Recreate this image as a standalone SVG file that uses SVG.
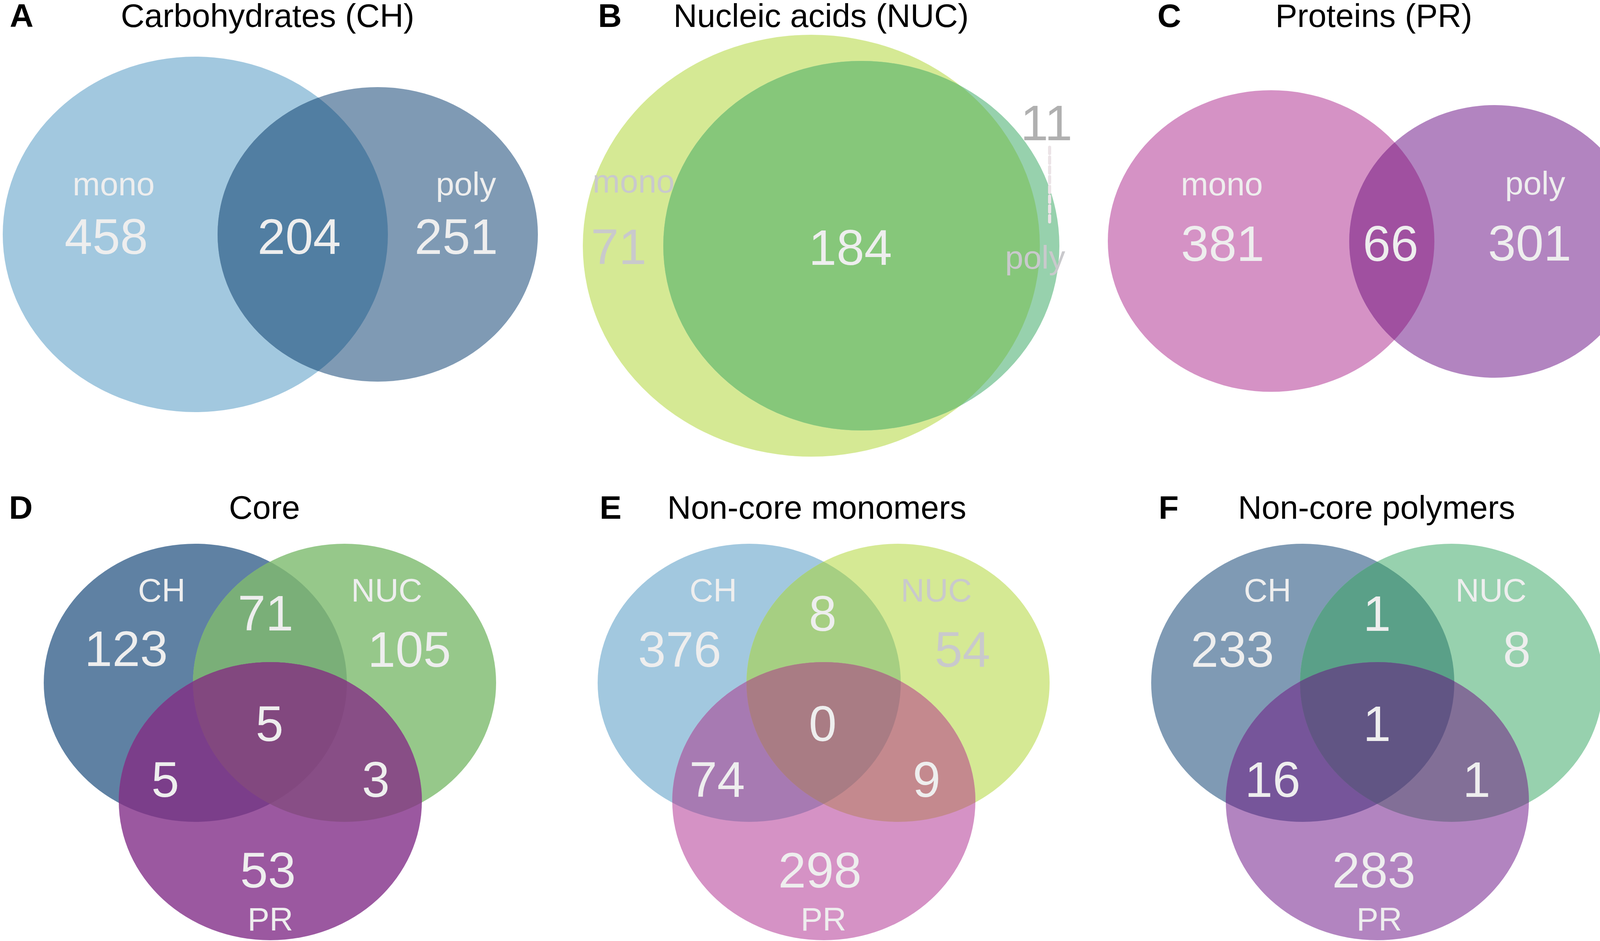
<svg xmlns="http://www.w3.org/2000/svg" width="4206" height="2409" viewBox="0 0 4206 2409">
<style>
text{font-family:"Liberation Sans",Arial,sans-serif}
.t{font-size:84px;fill:#000;text-anchor:middle}
.L{font-size:84px;font-weight:bold;fill:#000}
.lb{font-size:84px;fill:#EEEEEE;text-anchor:middle}
.n{font-size:128px;fill:#EEEEEE;text-anchor:middle}
.g{fill:#C9C9CC}
.g2{fill:#B0B0B0}
</style>
<defs>
<clipPath id="cA1"><ellipse cx="500" cy="600" rx="493" ry="455"/></clipPath>
<clipPath id="cB1"><ellipse cx="2077" cy="629" rx="585" ry="540"/></clipPath>
<clipPath id="cC1"><ellipse cx="3254" cy="617" rx="418" ry="386"/></clipPath>
<clipPath id="cD1"><ellipse cx="500" cy="1748" rx="388" ry="356"/></clipPath>
<clipPath id="cD2"><ellipse cx="882" cy="1748" rx="388" ry="356"/></clipPath>
<clipPath id="cE1"><ellipse cx="1918" cy="1748" rx="388" ry="356"/></clipPath>
<clipPath id="cE2"><ellipse cx="2299" cy="1748" rx="388" ry="356"/></clipPath>
<clipPath id="cF1"><ellipse cx="3335" cy="1748" rx="388" ry="356"/></clipPath>
<clipPath id="cF2"><ellipse cx="3716" cy="1748" rx="388" ry="356"/></clipPath>
</defs>
<rect width="4206" height="2409" fill="#FFFFFF"/>

<g id="panelA">
<text class="L" x="25" y="69">A</text>
<text class="t" x="685" y="69">Carbohydrates (CH)</text>
<g id="A-mono"><ellipse cx="500" cy="600" rx="493" ry="455" fill="#A2C8DF"/></g>
<g id="A-poly"><ellipse cx="967" cy="600" rx="410" ry="377" fill="#7F9AB4"/></g>
<g id="A-overlap" clip-path="url(#cA1)"><ellipse cx="967" cy="600" rx="410" ry="377" fill="#517EA2"/></g>
<text class="lb" x="291" y="500">mono</text>
<text class="n" x="272" y="650">458</text>
<text class="n" x="766" y="650">204</text>
<text class="lb" x="1193" y="500">poly</text>
<text class="n" x="1168" y="650">251</text>
</g>

<g id="panelB">
<text class="L" x="1531" y="69">B</text>
<text class="t" x="2102" y="69">Nucleic acids (NUC)</text>
<g id="B-mono"><ellipse cx="2077" cy="629" rx="585" ry="540" fill="#D5E994"/></g>
<g id="B-poly"><ellipse cx="2205" cy="629" rx="507" ry="473" fill="#97D1AD"/></g>
<g id="B-overlap" clip-path="url(#cB1)"><ellipse cx="2205" cy="629" rx="507" ry="473" fill="#86C77A"/></g>
<text class="lb g" x="1622" y="493">mono</text>
<text class="n g" x="1584" y="676">71</text>
<text class="n" x="2177" y="678">184</text>
<text class="lb g" x="2650" y="688">poly</text>
<text class="n g2" x="2679" y="359">11</text>
</g>

<g id="panelC">
<text class="L" x="2963" y="69">C</text>
<text class="t" x="3517" y="69">Proteins (PR)</text>
<g id="C-mono"><ellipse cx="3254" cy="617" rx="418" ry="386" fill="#D592C5"/></g>
<g id="C-poly"><ellipse cx="3826" cy="618" rx="372" ry="349" fill="#B284C0"/></g>
<g id="C-overlap" clip-path="url(#cC1)"><ellipse cx="3826" cy="618" rx="372" ry="349" fill="#A050A0"/></g>
<text class="lb" x="3128" y="500">mono</text>
<text class="n" x="3130" y="668">381</text>
<text class="n" x="3560" y="668">66</text>
<text class="lb" x="3930" y="498">poly</text>
<text class="n" x="3916" y="667">301</text>
</g>

<g id="panelD">
<text class="L" x="23" y="1328">D</text>
<text class="t" x="677" y="1328">Core</text>
<g id="D-CH"><ellipse cx="500" cy="1748" rx="388" ry="356" fill="#5F81A3"/></g>
<g id="D-NUC"><ellipse cx="882" cy="1748" rx="388" ry="356" fill="#96C88A"/></g>
<g id="D-PR"><ellipse cx="692" cy="2051" rx="388" ry="356" fill="#9B58A0"/></g>
<g id="D-CH-NUC" clip-path="url(#cD1)"><ellipse cx="882" cy="1748" rx="388" ry="356" fill="#7AAF78"/></g>
<g id="D-CH-PR" clip-path="url(#cD1)"><ellipse cx="692" cy="2051" rx="388" ry="356" fill="#7B3E8A"/></g>
<g id="D-NUC-PR" clip-path="url(#cD2)"><ellipse cx="692" cy="2051" rx="388" ry="356" fill="#884E86"/></g>
<g id="D-all" clip-path="url(#cD1)"><g clip-path="url(#cD2)"><ellipse cx="692" cy="2051" rx="388" ry="356" fill="#82487F"/></g></g>
<text class="lb" x="414" y="1540">CH</text>
<text class="lb" x="990" y="1540">NUC</text>
<text class="n" x="680" y="1614">71</text>
<text class="n" x="323" y="1705">123</text>
<text class="n" x="1048" y="1707">105</text>
<text class="n" x="690" y="1897">5</text>
<text class="n" x="423" y="2040">5</text>
<text class="n" x="962" y="2040">3</text>
<text class="n" x="686" y="2272">53</text>
<text class="lb" x="692" y="2382">PR</text>
</g>

<g id="panelE">
<text class="L" x="1535" y="1328">E</text>
<text class="t" x="2091" y="1328">Non-core monomers</text>
<g id="E-CH"><ellipse cx="1918" cy="1748" rx="388" ry="356" fill="#A2C8DF"/></g>
<g id="E-NUC"><ellipse cx="2299" cy="1748" rx="388" ry="356" fill="#D5E994"/></g>
<g id="E-PR"><ellipse cx="2109" cy="2051" rx="388" ry="356" fill="#D592C5"/></g>
<g id="E-CH-NUC" clip-path="url(#cE1)"><ellipse cx="2299" cy="1748" rx="388" ry="356" fill="#A6CF82"/></g>
<g id="E-CH-PR" clip-path="url(#cE1)"><ellipse cx="2109" cy="2051" rx="388" ry="356" fill="#A77AB2"/></g>
<g id="E-NUC-PR" clip-path="url(#cE2)"><ellipse cx="2109" cy="2051" rx="388" ry="356" fill="#C4898E"/></g>
<g id="E-all" clip-path="url(#cE1)"><g clip-path="url(#cE2)"><ellipse cx="2109" cy="2051" rx="388" ry="356" fill="#A97C84"/></g></g>
<text class="lb" x="1826" y="1540">CH</text>
<text class="lb g" x="2397" y="1540">NUC</text>
<text class="n" x="2106" y="1615">8</text>
<text class="n" x="1740" y="1707">376</text>
<text class="n g" x="2464" y="1707">54</text>
<text class="n" x="2106" y="1897">0</text>
<text class="n" x="1836" y="2040">74</text>
<text class="n" x="2372" y="2040">9</text>
<text class="n" x="2099" y="2272">298</text>
<text class="lb" x="2108" y="2382">PR</text>
</g>

<g id="panelF">
<text class="L" x="2966" y="1328">F</text>
<text class="t" x="3524" y="1328">Non-core polymers</text>
<g id="F-CH"><ellipse cx="3335" cy="1748" rx="388" ry="356" fill="#7F9AB4"/></g>
<g id="F-NUC"><ellipse cx="3716" cy="1748" rx="388" ry="356" fill="#97D1AE"/></g>
<g id="F-PR"><ellipse cx="3526" cy="2051" rx="388" ry="356" fill="#B284C0"/></g>
<g id="F-CH-NUC" clip-path="url(#cF1)"><ellipse cx="3716" cy="1748" rx="388" ry="356" fill="#5AA088"/></g>
<g id="F-CH-PR" clip-path="url(#cF1)"><ellipse cx="3526" cy="2051" rx="388" ry="356" fill="#76559A"/></g>
<g id="F-NUC-PR" clip-path="url(#cF2)"><ellipse cx="3526" cy="2051" rx="388" ry="356" fill="#826F97"/></g>
<g id="F-all" clip-path="url(#cF1)"><g clip-path="url(#cF2)"><ellipse cx="3526" cy="2051" rx="388" ry="356" fill="#615584"/></g></g>
<text class="lb" x="3245" y="1540">CH</text>
<text class="lb" x="3817" y="1540">NUC</text>
<text class="n" x="3525" y="1615">1</text>
<text class="n" x="3155" y="1707">233</text>
<text class="n" x="3883" y="1707">8</text>
<text class="n" x="3525" y="1897">1</text>
<text class="n" x="3258" y="2040">16</text>
<text class="n" x="3780" y="2040">1</text>
<text class="n" x="3517" y="2272">283</text>
<text class="lb" x="3531" y="2382">PR</text>
</g>

<g id="connectors">
<line x1="2687" y1="377" x2="2687" y2="568" stroke="#EBE3E6" stroke-width="8" stroke-dasharray="16 9" stroke-linecap="round"/>
</g>
</svg>
